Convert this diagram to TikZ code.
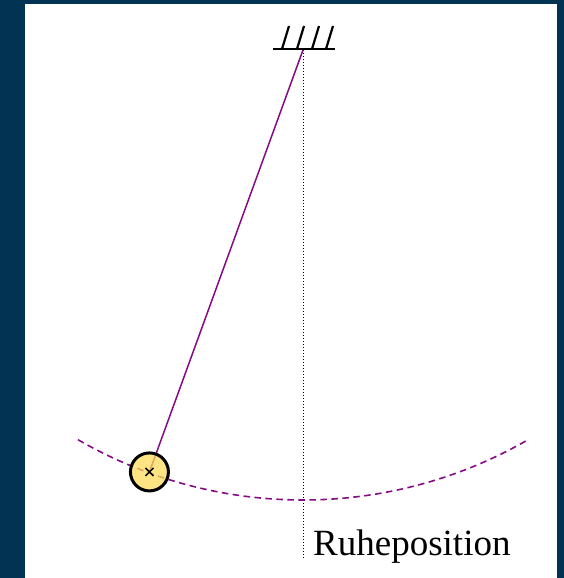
\documentclass[tikz,border=0pt]{standalone}
\usepackage{fontspec}
\setmainfont{Liberation Serif}
\usetikzlibrary{calc}
\definecolor{bgblue}{RGB}{3,51,82}
\definecolor{bobfill}{RGB}{255,220,90}
\definecolor{pendviolet}{RGB}{135,10,135}
\begin{document}
\begin{tikzpicture}[x=1pt,y=-1pt,
  stringline/.style={pendviolet,line width=1.5pt},
  swingarc/.style={pendviolet,line width=1.6pt,dash pattern=on 6.5pt off 4.5pt},
  restline/.style={black,line width=1pt,dotted},
  hatchline/.style={black,line width=2.2pt},
  bobstyle/.style={circle,draw=black,line width=3pt,fill=bobfill,fill opacity=0.75,draw opacity=1,inner sep=0pt,minimum size=38pt},
  labeltext/.style={font=\fontsize{37}{40}\selectfont,inner sep=0pt,anchor=base west}]
\useasboundingbox (0,0) rectangle (564,578);
\fill[bgblue] (0,0) rectangle (564,578);
\fill[white] (25,4) rectangle (557,578);
% ceiling
\coordinate (P) at (303,50);
\coordinate (CL) at (273,49);
\coordinate (CR) at (335,49);
\draw[hatchline] (CL) -- (CR);
\foreach \hx in {282,297,312,326}{
  \draw[hatchline] (\hx,49) -- (\hx+7,26);
}
% rest line
\coordinate (R) at (303,558);
\draw[restline] (P) -- (R);
% arc
\coordinate (B) at ($(P)+(110:449)$);
\draw[stringline] (P) -- (B);
\draw[swingarc] (P) ++(120:450) arc[start angle=120,end angle=60,radius=450];
% bob
\node[bobstyle] (bob) at (B) {};
\draw[black,line width=1.5pt] ($(B)+(-4,-4)$) -- ($(B)+(4,4)$)
  ($(B)+(-4,4)$) -- ($(B)+(4,-4)$);
\node[labeltext] (lbl) at (313,555) {Ruheposition};
\end{tikzpicture}
\end{document}
